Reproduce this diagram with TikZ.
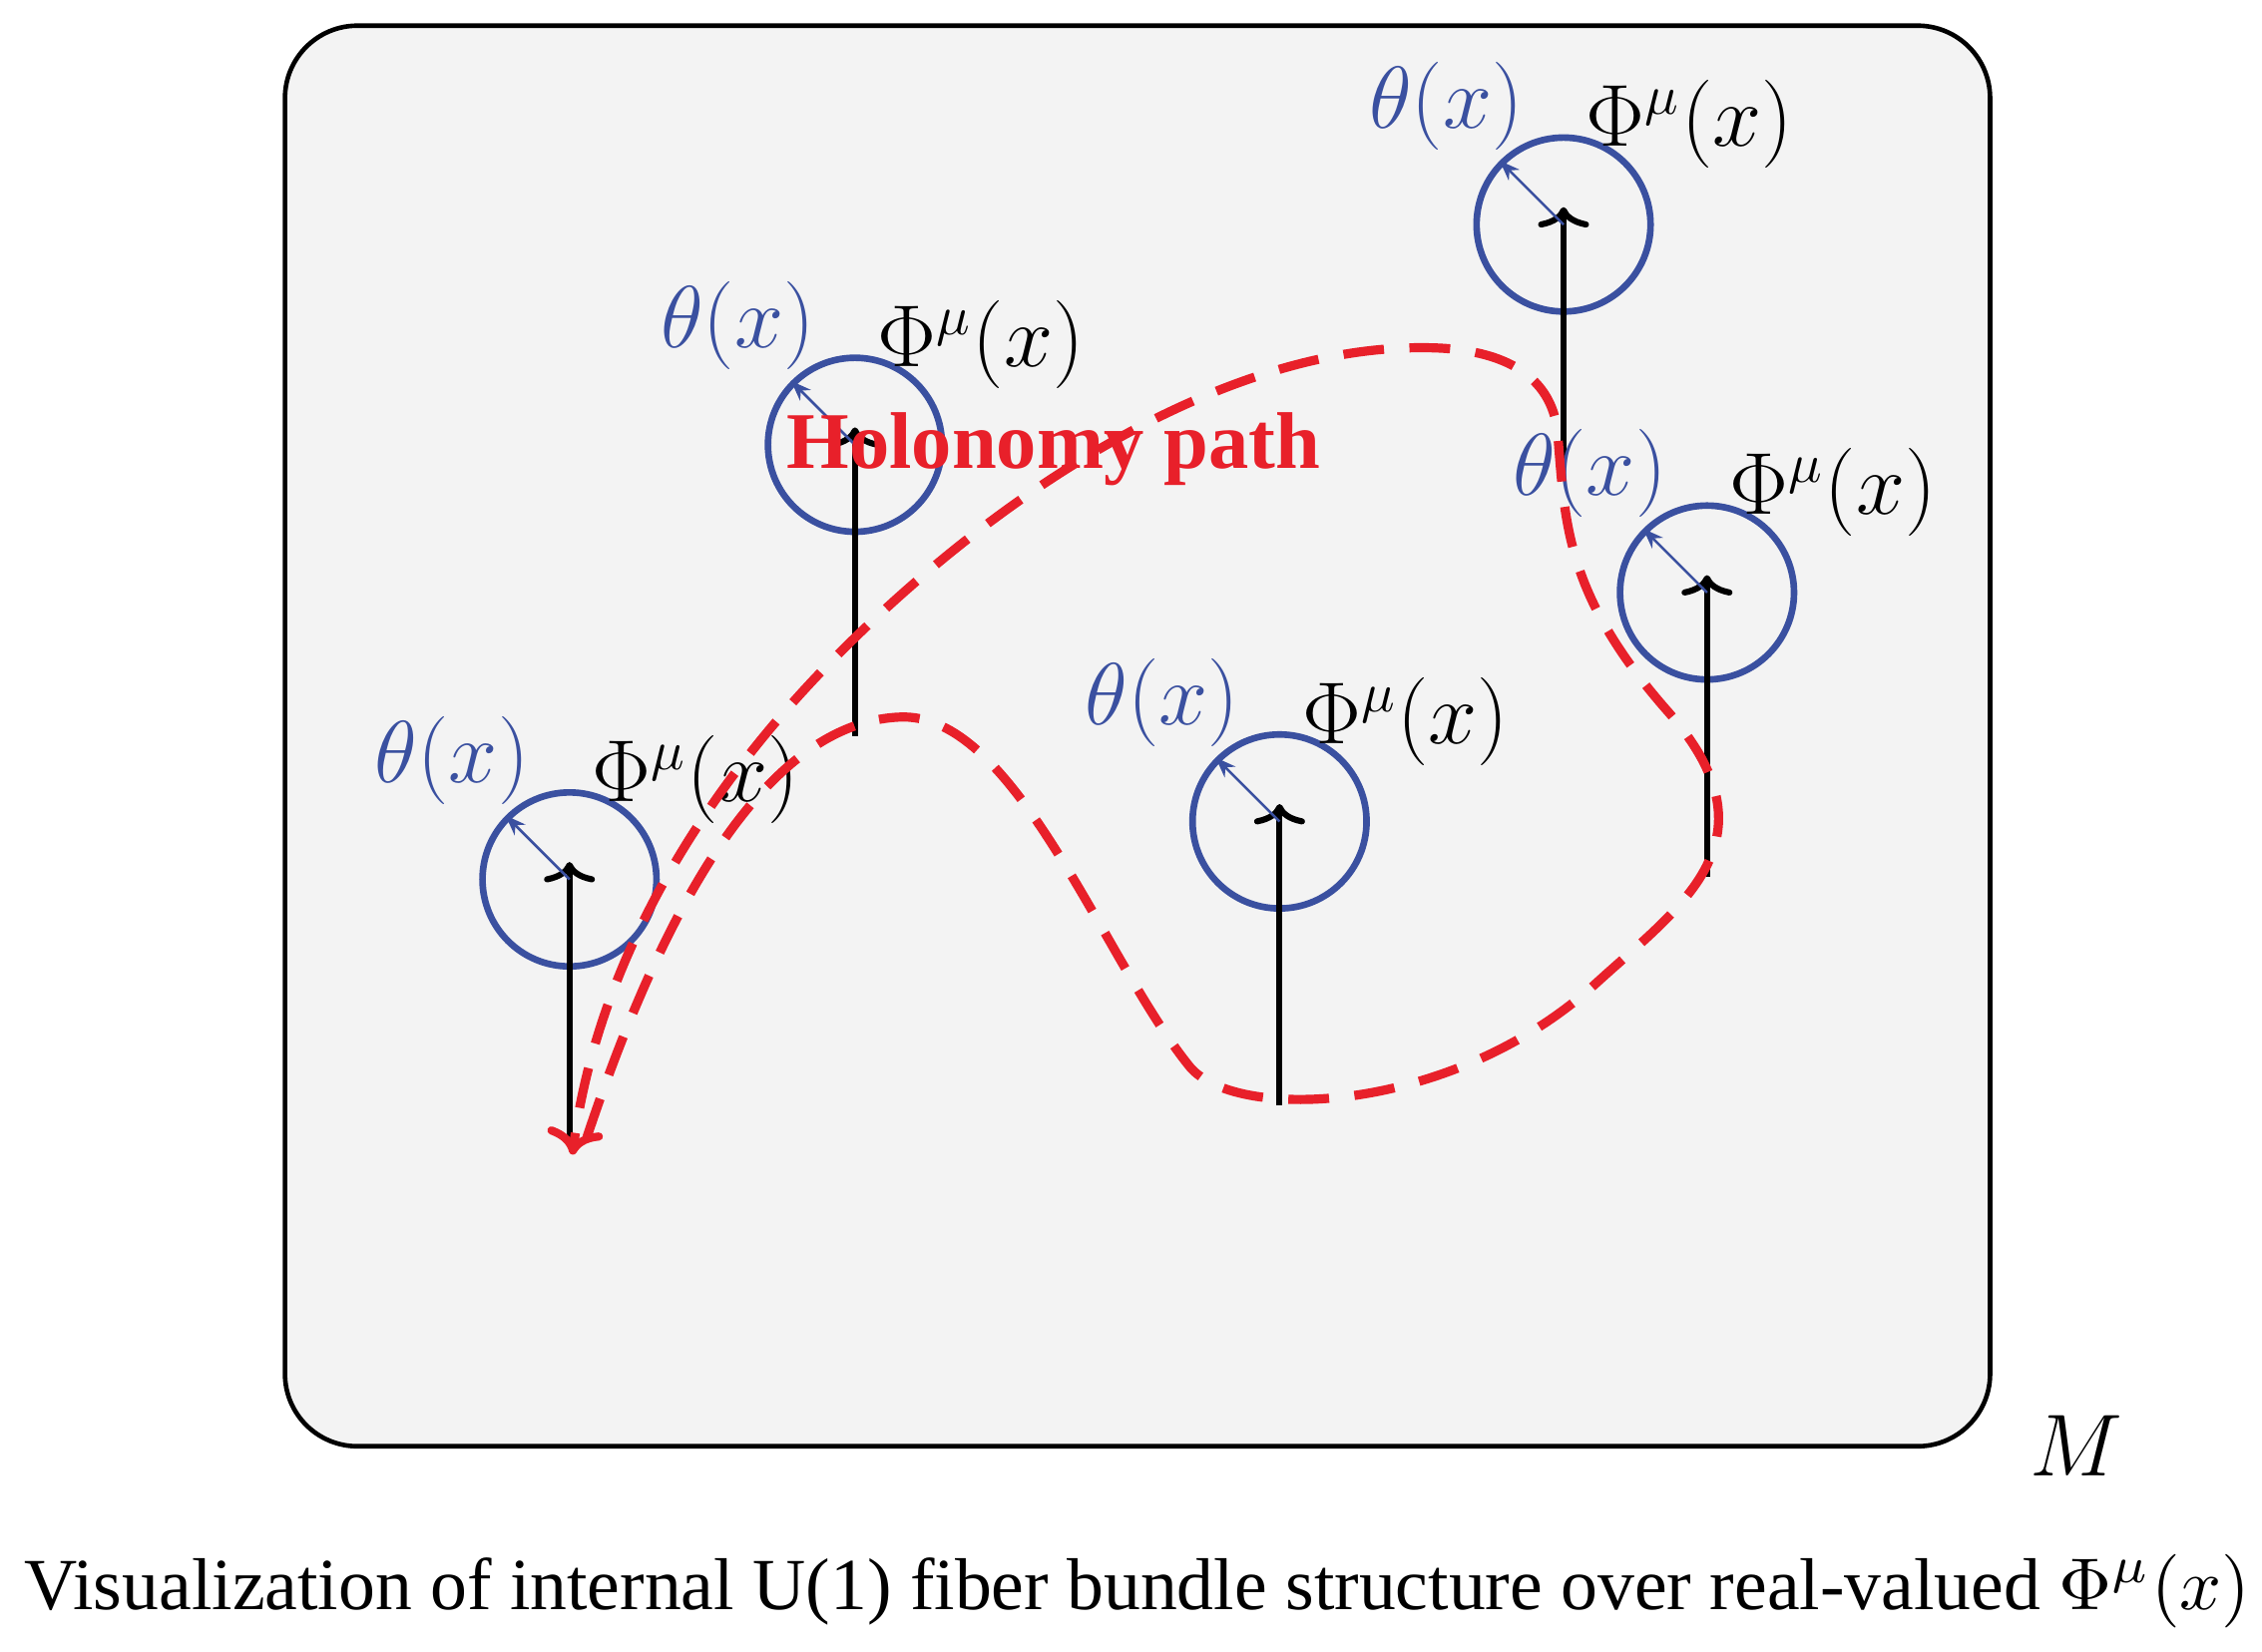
\documentclass[tikz,border=0pt]{standalone}
\usepackage{amsmath}
\usepackage{graphicx}
\usepackage{fontspec}
\setmainfont{Liberation Serif}
\usetikzlibrary{arrows.meta}
\definecolor{bg}{HTML}{F3F3F3}
\definecolor{cblue}{HTML}{3A50A0}
\definecolor{cred}{HTML}{E8202A}
\begin{document}
\begin{tikzpicture}[x=0.01cm,y=-0.01cm,
  fib/.style={line width=1.2pt,-{To[length=4pt,width=10pt,line width=1.2pt]}},
  ring/.style={draw=cblue,line width=1.3pt,circle,minimum size=1.2cm,inner sep=0pt},
  ang/.style={draw=cblue,line width=0.5pt,-{Stealth[length=4pt]}},
  lbl/.style={font=\fontsize{16}{18}\selectfont,inner sep=0pt},
  hol/.style={draw=cred,line width=1.8pt,dash pattern=on 8pt off 5pt}]
\useasboundingbox (0,0) rectangle (1561,1140);
\node[draw,line width=0.9pt,fill=bg,rounded corners=0.5cm,minimum width=11.76cm,minimum height=9.8cm] (box) at (785,508) {};
% fibers
\foreach \i/\x/\yb/\yt in {1/393/790/595, 2/590/508/295, 3/883/763/555, 4/1079/320/143, 5/1178/605/397}{
  \coordinate (b\i) at (\x,\yb);
  \coordinate (t\i) at (\x,\yt);
  \node[ring] (c\i) at (\x,\yt+12) {};
  \draw[fib] (b\i) -- (t\i);
  \draw[ang] (c\i.center) -- (c\i.135);
  \node[lbl,text=cblue] (th\i) at (\x-81,\yt-70) {$\theta(x)$};
  \node[lbl] (ph\i) at (\x+87,\yt-57) {$\Phi^\mu(x)$};
}
% holonomy path
\coordinate (h0) at (405,785);
\coordinate (h1) at (395,797);
\draw[hol,-{To[length=5pt,width=11pt,line width=1.6pt]}] (h0)
  .. controls (450,650) and (520,500) .. (620,495)
  .. controls (700,490) and (760,660) .. (820,735)
  .. controls (850,775) and (1000,770) .. (1100,680)
  .. controls (1160,625) and (1230,580) .. (1150,490)
  .. controls (1080,410) and (1080,360) .. (1075,300)
  .. controls (1070,240) and (1000,240) .. (980,240)
  .. controls (850,240) and (700,330) .. (580,450)
  .. controls (470,560) and (410,680) .. (h1);
\node[text=cred,inner sep=0pt] (hl) at (727,310) {\resizebox{3.68cm}{!}{\bfseries Holonomy path}};
\node[lbl] (m) at (1433,998) {$M$};
\node[inner sep=0pt] (cap) at (785,1098) {\resizebox{15.35cm}{!}{Visualization of internal U(1) fiber bundle structure over real-valued $\Phi^\mu(x)$}};
\end{tikzpicture}
\end{document}
